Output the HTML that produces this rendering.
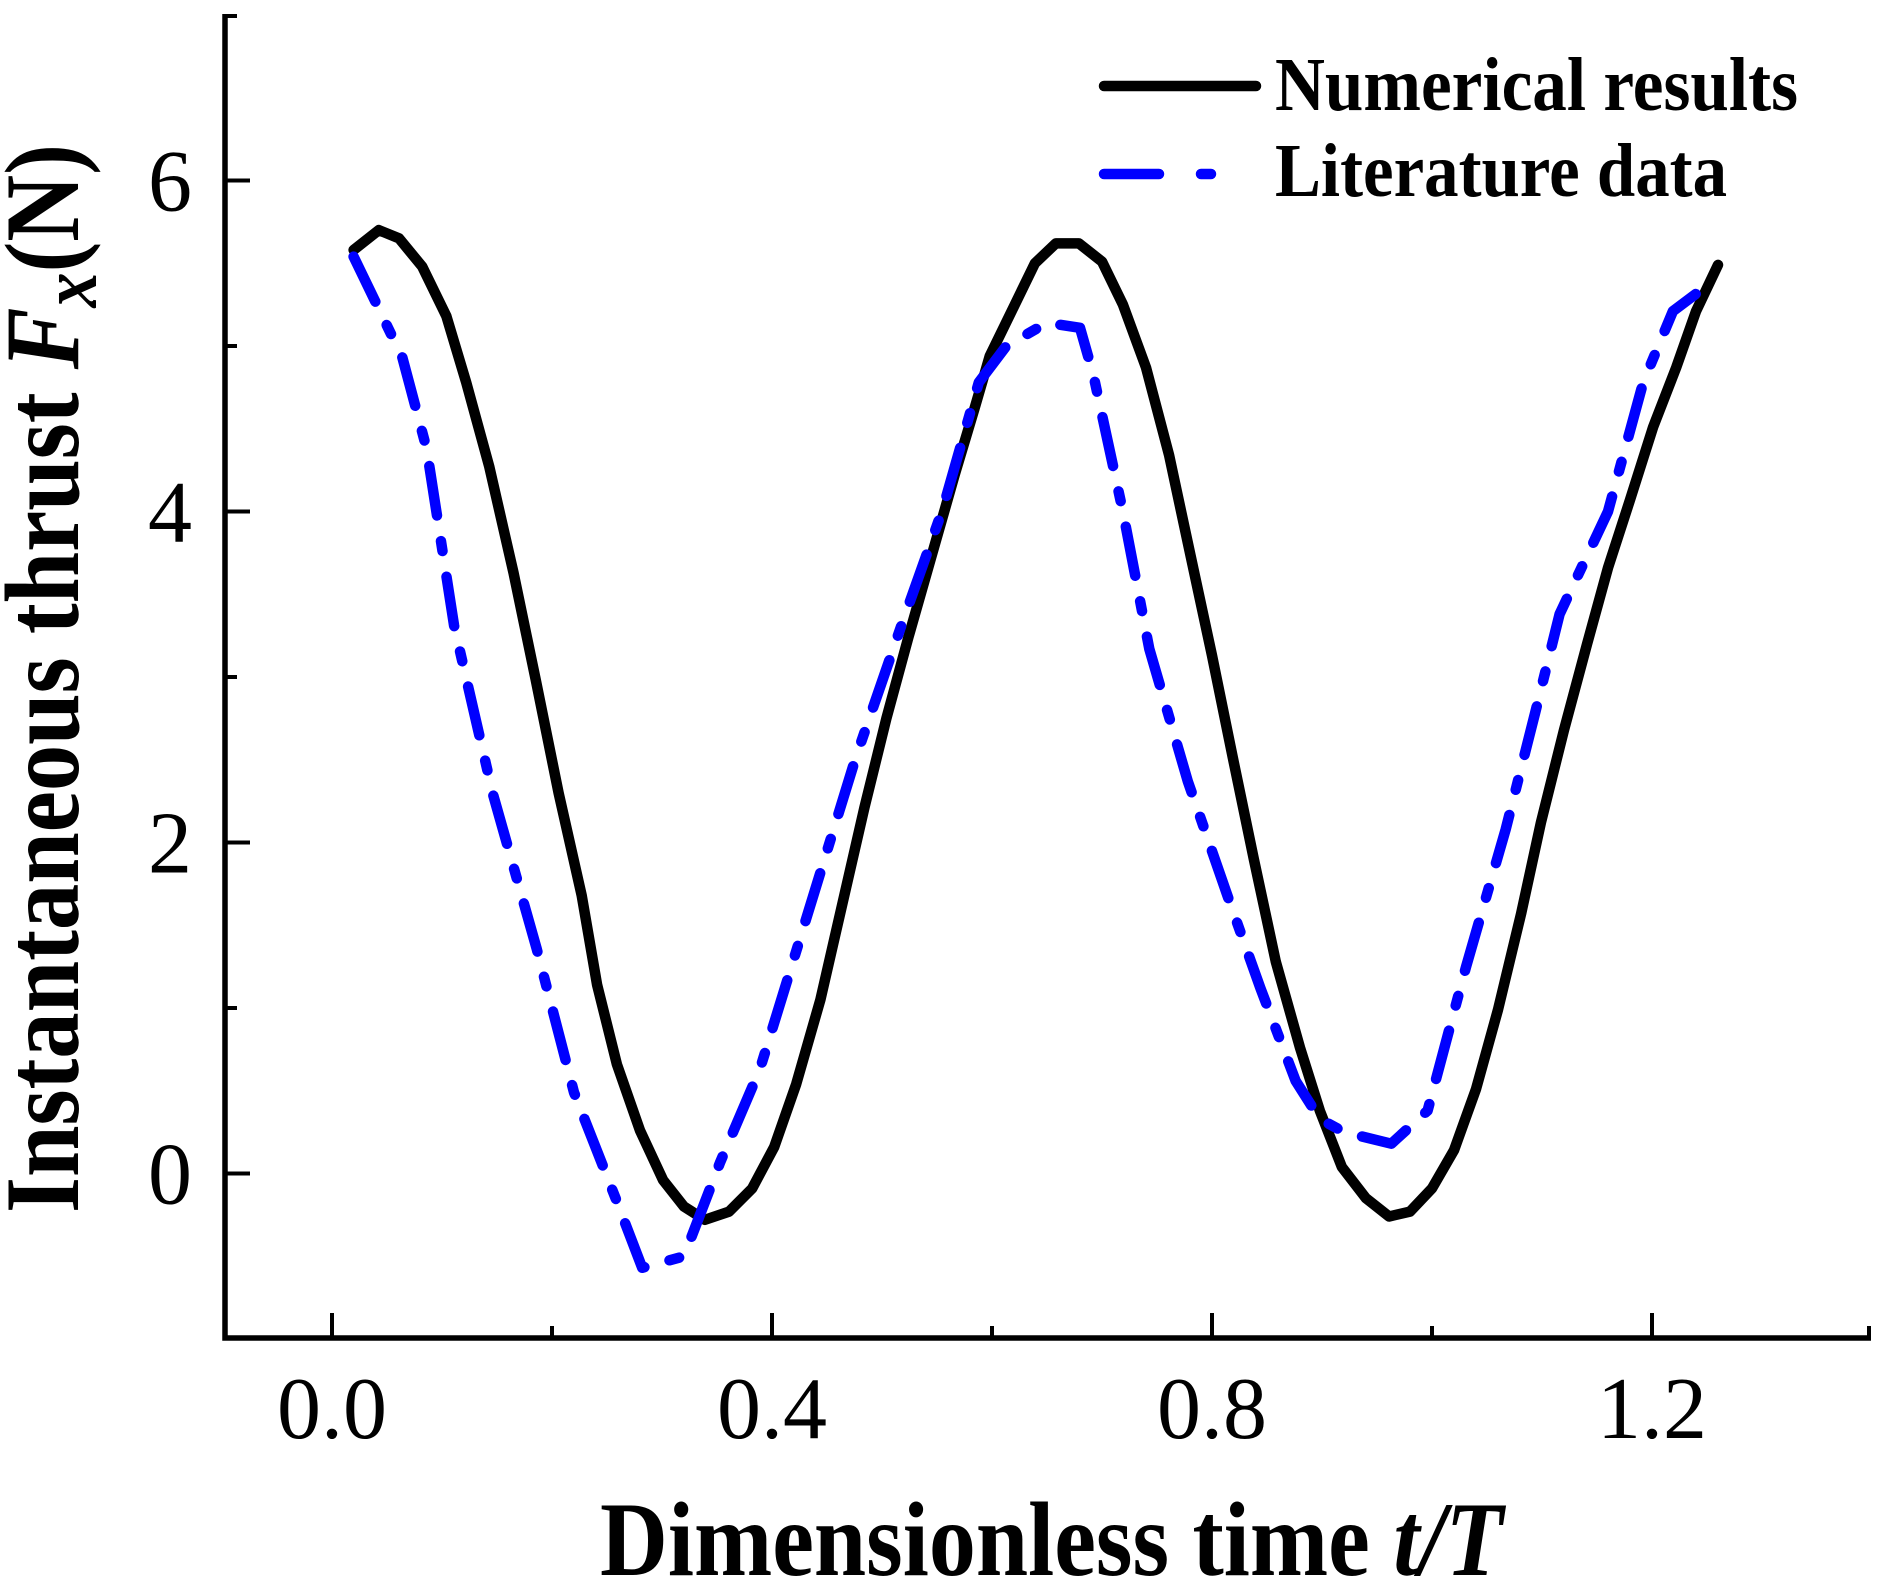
<!DOCTYPE html>
<html><head><meta charset="utf-8"><style>
html,body{margin:0;padding:0;background:#fff;}
svg{display:block;}
text{font-family:"Liberation Serif",serif;}
</style></head><body>
<svg id="chart" width="1883" height="1591" viewBox="0 0 1883 1591" xmlns="http://www.w3.org/2000/svg">
<g id="axes"></g>
<g id="series"></g>
<g id="legend">
  <line x1="1104" y1="86" x2="1256" y2="86" stroke="#000" stroke-width="10.5" stroke-linecap="round"/>
  <text x="1275" y="110" font-size="76" font-weight="bold" textLength="523" lengthAdjust="spacingAndGlyphs">Numerical results</text>
  <line x1="1104" y1="174" x2="1256" y2="174" stroke="#0000ff" stroke-width="10.5" stroke-linecap="round" stroke-dasharray="55 42 10 50"/>
  <text x="1275" y="196" font-size="76" font-weight="bold" textLength="452" lengthAdjust="spacingAndGlyphs">Literature data</text>
</g>
<text x="600" y="1575" font-size="106" font-weight="bold" textLength="903" lengthAdjust="spacingAndGlyphs">Dimensionless time <tspan font-style="italic">t/T</tspan></text>
<text transform="translate(78,1213) rotate(-90)" x="0" y="0" font-size="106" font-weight="bold" textLength="1069" lengthAdjust="spacingAndGlyphs">Instantaneous thrust <tspan font-style="italic">F</tspan><tspan font-style="italic" dy="18" font-size="80">x</tspan><tspan dy="-18">(N)</tspan></text>
</svg>
<script>
const xTicks = [0.0, 0.4, 0.8, 1.2];
const xTickLabels = ["0.0", "0.4", "0.8", "1.2"];
const xMinorTicks = [0.2, 0.6, 1.0, 1.4];
const yTicks = [0, 2, 4, 6];
const yTickLabels = ["0", "2", "4", "6"];
const yMinorTicks = [1, 3, 5, 7];
const numT = [0.0196,0.0425,0.061,0.082,0.104,0.122,0.143,0.165,0.185,0.206,0.227,0.241,0.259,0.280,0.301,0.320,0.339,0.361,0.382,0.402,0.422,0.444,0.464,0.484,0.504,0.524,0.545,0.566,0.584,0.598,0.620,0.639,0.658,0.679,0.700,0.719,0.740,0.761,0.779,0.800,0.819,0.838,0.858,0.880,0.898,0.918,0.940,0.961,0.980,1.000,1.020,1.040,1.060,1.081,1.099,1.120,1.141,1.160,1.180,1.201,1.222,1.240,1.260];
const numF = [5.58,5.70,5.65,5.48,5.18,4.78,4.27,3.63,2.99,2.30,1.68,1.14,0.66,0.26,-0.04,-0.20,-0.28,-0.23,-0.09,0.16,0.54,1.05,1.63,2.21,2.75,3.24,3.73,4.22,4.62,4.94,5.24,5.50,5.62,5.62,5.51,5.25,4.87,4.34,3.78,3.13,2.51,1.90,1.28,0.76,0.38,0.04,-0.15,-0.26,-0.23,-0.09,0.14,0.51,0.99,1.57,2.12,2.68,3.20,3.66,4.07,4.51,4.87,5.21,5.49];
const litT = [0.0196,0.064,0.086,0.111,0.146,0.186,0.220,0.259,0.282,0.320,0.353,0.389,0.476,0.517,0.555,0.588,0.613,0.650,0.680,0.692,0.719,0.743,0.778,0.814,0.844,0.876,0.898,0.920,0.963,0.996,1.031,1.067,1.094,1.116,1.160,1.192,1.219,1.245];
const litF = [5.54,4.93,4.38,3.31,2.30,1.36,0.49,-0.17,-0.57,-0.50,0.07,0.63,2.51,3.30,4.01,4.78,5.00,5.14,5.11,4.83,4.00,3.17,2.37,1.68,1.12,0.56,0.33,0.25,0.18,0.38,1.25,2.08,2.79,3.38,4.00,4.78,5.21,5.34];

const NS = "http://www.w3.org/2000/svg";
function xs(v){ return 332 + v * 1100; }
function ys(v){ return 1173.5 - v * 165.5; }
const L = 225, R = 1871, T = 14, B = 1338;
const axes = document.getElementById('axes');
function mk(tag, attrs, parent){
  const e = document.createElementNS(NS, tag);
  for (const k in attrs) e.setAttribute(k, attrs[k]);
  parent.appendChild(e);
  return e;
}
let p = mk('path', {d:`M${L},${T} L${L},${B} L${R},${B}`, fill:'none', stroke:'#000', 'stroke-width':5.5}, axes);


xTicks.forEach((v,i)=>{
  const t = mk('line', {x1:xs(v), x2:xs(v), y1:B, y2:B-25, stroke:'#000', 'stroke-width':4}, axes);
  
  
  const tx = mk('text', {x:xs(v), y:1438, 'font-size':88, 'text-anchor':'middle'}, axes);
  tx.textContent = xTickLabels[i];
  
  
});
xMinorTicks.forEach(v=>{
  const t = mk('line', {x1:Math.min(xs(v),R-2), x2:Math.min(xs(v),R-2), y1:B, y2:B-12, stroke:'#000', 'stroke-width':4}, axes);
  
  
});
yTicks.forEach((v,i)=>{
  const t = mk('line', {x1:L, x2:L+25, y1:ys(v), y2:ys(v), stroke:'#000', 'stroke-width':4}, axes);
  
  
  const tx = mk('text', {x:192, y:ys(v)+30, 'font-size':88, 'text-anchor':'end'}, axes);
  tx.textContent = yTickLabels[i];
  
  
});
yMinorTicks.forEach(v=>{
  const yy = Math.max(ys(v), T+2);
  const t = mk('line', {x1:L, x2:L+12, y1:yy, y2:yy, stroke:'#000', 'stroke-width':4}, axes);
  
  
});
const series = document.getElementById('series');
function pathD(tArr, fArr){ return tArr.map((t,i)=>(i?'L':'M')+xs(t).toFixed(1)+','+ys(fArr[i]).toFixed(1)).join(' '); }
const num = mk('path', {d:pathD(numT, numF), fill:'none', stroke:'#000', 'stroke-width':10.5, 'stroke-linejoin':'round', 'stroke-linecap':'round'}, series);


const lit = mk('path', {d:pathD(litT, litF), fill:'none', stroke:'#0000ff', 'stroke-width':10.5, 'stroke-linejoin':'round', 'stroke-linecap':'round', 'stroke-dasharray':'50 26 10 26'}, series);


</script>
</body></html>
